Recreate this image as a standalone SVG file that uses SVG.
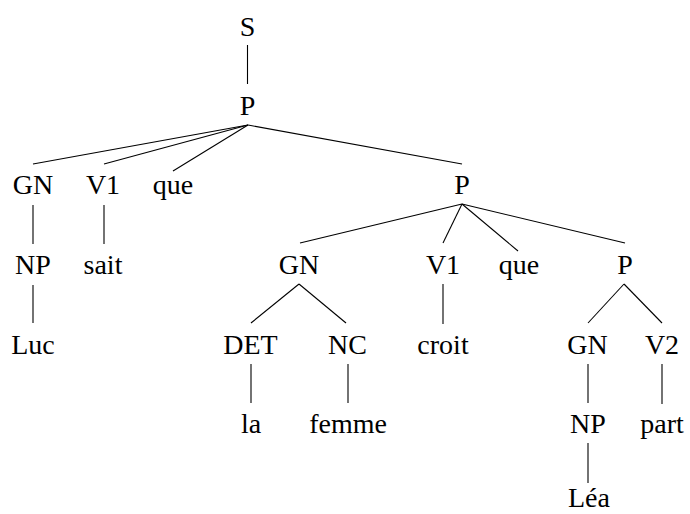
<svg xmlns="http://www.w3.org/2000/svg" width="690" height="514" viewBox="0 0 690 514">
<style>
.e line{stroke:#000;stroke-width:1.1}
</style>
<rect width="690" height="514" fill="#fff"/>
<g class="e" id="edges">
<line x1="247.5" y1="45" x2="247.5" y2="84"/>
<line x1="248" y1="125" x2="33" y2="164"/>
<line x1="248" y1="125" x2="104" y2="164"/>
<line x1="248" y1="125" x2="173" y2="171"/>
<line x1="248" y1="125" x2="462" y2="164"/>
<line x1="33" y1="205" x2="33" y2="244"/>
<line x1="104" y1="205" x2="104" y2="244"/>
<line x1="462" y1="204" x2="300" y2="243"/>
<line x1="462" y1="204" x2="443" y2="243"/>
<line x1="462" y1="204" x2="518" y2="251"/>
<line x1="462" y1="204" x2="625" y2="243"/>
<line x1="33" y1="285" x2="33" y2="323"/>
<line x1="299" y1="284" x2="251" y2="323"/>
<line x1="299" y1="284" x2="346" y2="323"/>
<line x1="443" y1="284" x2="443" y2="324"/>
<line x1="624" y1="284" x2="588" y2="323"/>
<line x1="624" y1="284" x2="662" y2="323"/>
<line x1="251" y1="364" x2="251" y2="403"/>
<line x1="348" y1="364" x2="348" y2="403"/>
<line x1="588" y1="364" x2="588" y2="403"/>
<line x1="662" y1="364" x2="662" y2="404"/>
<line x1="588" y1="443" x2="588" y2="483"/>
</g>
<g font-family="Liberation Serif, DejaVu Serif, serif" font-size="28" fill="#000" text-anchor="middle">
<g id="n-S"><text x="247.5" y="36">S</text></g>
<g id="n-P1"><text x="247.5" y="115">P</text></g>
<g id="n-GN1"><text x="33" y="194">GN</text></g>
<g id="n-V1a"><text x="103" y="194">V1</text></g>
<g id="n-que1"><text x="173" y="194">que</text></g>
<g id="n-P2"><text x="462" y="194">P</text></g>
<g id="n-NP1"><text x="33" y="274">NP</text></g>
<g id="n-sait"><text x="103" y="274">sait</text></g>
<g id="n-GN2"><text x="299" y="274">GN</text></g>
<g id="n-V1b"><text x="443" y="274">V1</text></g>
<g id="n-que2"><text x="519" y="274">que</text></g>
<g id="n-P3"><text x="625" y="274">P</text></g>
<g id="n-Luc"><text x="33" y="354">Luc</text></g>
<g id="n-DET"><text x="250.5" y="354">DET</text></g>
<g id="n-NC"><text x="347.5" y="354">NC</text></g>
<g id="n-croit"><text x="443" y="354">croit</text></g>
<g id="n-GN3"><text x="587.5" y="354">GN</text></g>
<g id="n-V2"><text x="662" y="354">V2</text></g>
<g id="n-la"><text x="251" y="433">la</text></g>
<g id="n-femme"><text x="348" y="433">femme</text></g>
<g id="n-NP2"><text x="588" y="433">NP</text></g>
<g id="n-part"><text x="662" y="433">part</text></g>
<g id="n-Lea"><text x="589" y="507">Léa</text></g>
</g>
</svg>
